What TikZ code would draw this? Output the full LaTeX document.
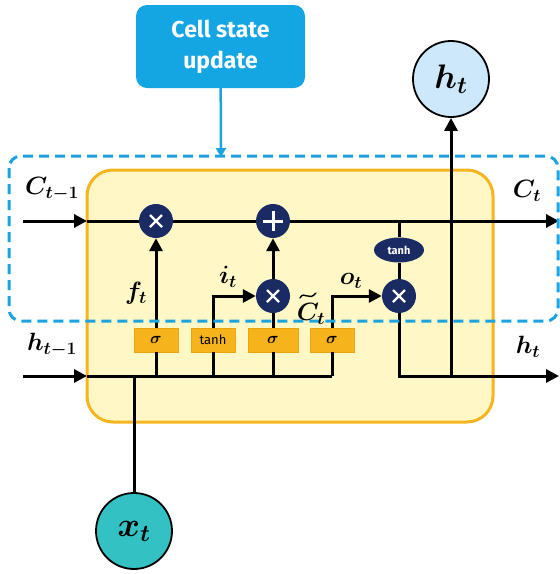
\RequirePackage{fix-cm}
\documentclass[tikz,border=0pt]{standalone}
\usepackage{fontspec}
\usepackage{bm}
\usetikzlibrary{arrows.meta,shapes.geometric}
\newfontfamily\boxfont{Fira Sans}
\definecolor{navy}{HTML}{1A2B63}
\definecolor{gateor}{HTML}{F6B31C}
\definecolor{gatebd}{HTML}{E9A510}
\definecolor{cellfill}{HTML}{FFF8C6}
\definecolor{cellbd}{HTML}{F5B521}
\definecolor{skyblue}{HTML}{1BA3E0}
\definecolor{boxblue}{HTML}{14A5E3}
\definecolor{hblue}{HTML}{CDE8FA}
\definecolor{xteal}{HTML}{33C1C4}
\begin{document}
\begin{tikzpicture}[x=1pt,y=-1pt,
  line/.style={line width=3pt,black},
  arr/.style={line,-{Triangle[length=13pt,width=13pt]}},
  op/.style={circle,fill=navy,minimum size=34pt,inner sep=0pt},
  mulop/.style={op,path picture={
      \draw[white,line width=2.2pt] ([shift={(-6pt,-6pt)}]path picture bounding box.center) -- ([shift={(6pt,6pt)}]path picture bounding box.center);
      \draw[white,line width=2.2pt] ([shift={(-6pt,6pt)}]path picture bounding box.center) -- ([shift={(6pt,-6pt)}]path picture bounding box.center);}},
  addop/.style={op,path picture={
      \draw[white,line width=3pt] ([shift={(-10pt,0pt)}]path picture bounding box.center) -- ([shift={(10pt,0pt)}]path picture bounding box.center);
      \draw[white,line width=3pt] ([shift={(0pt,-10pt)}]path picture bounding box.center) -- ([shift={(0pt,10pt)}]path picture bounding box.center);}},
  gate/.style={rectangle,fill=gateor,draw=gatebd,line width=0.6pt,minimum width=44pt,minimum height=24pt,inner sep=0pt,font=\fontsize{16}{16}\selectfont},
  bigc/.style={circle,draw=black,line width=1.8pt,minimum size=76pt,inner sep=0pt,font=\fontsize{34}{36}\selectfont},
  lab/.style={font=\fontsize{25}{28}\selectfont},
  cellbox/.style={rectangle,rounded corners=11pt,fill=boxblue,text=white,minimum width=169pt,minimum height=83pt,align=center,font=\boxfont\bfseries\fontsize{23}{31}\selectfont},
  bluearr/.style={draw=skyblue,line width=2.5pt,-{Triangle[length=9pt,width=10pt]}}
]
\useasboundingbox (0,0) rectangle (560,574);
% boxes
\draw[draw=cellbd,fill=cellfill,line width=3pt,rounded corners=26pt] (87,170) rectangle (493,422);
\node[cellbox] (cell) at (220.5,46.5) {Cell state\\update};
\coordinate (dtop) at (221,157);
\draw[bluearr] (cell) -- (dtop);
% big circles
\node[bigc,fill=hblue] (hout) at (451,79) {$\bm{h_t}$};
\node[bigc,fill=xteal] (xin) at (134,531) {$\bm{x_t}$};
% operators
\node[mulop] (fmul) at (156,221) {};
\node[addop] (add) at (273,221) {};
\node[mulop] (imul) at (273,296) {};
\node[mulop] (omul) at (399,296) {};
\node[ellipse,fill=navy,text=white,minimum width=50pt,minimum height=25pt,inner sep=0pt,font=\boxfont\bfseries\fontsize{11}{11}\selectfont] (tanhe) at (399,250) {tanh};
% gates
\node[gate] (sf) at (156,340) {$\bm{\sigma}$};
\node[gate,font=\boxfont\fontsize{13}{13}\selectfont,text=black] (tg) at (213,340) {tanh};
\node[gate,minimum width=50pt] (si) at (273,340) {$\bm{\sigma}$};
\node[gate] (so) at (332,340) {$\bm{\sigma}$};
% coordinates
\coordinate (cin) at (23,221);
\coordinate (cl) at (87,221);
\coordinate (cout) at (559,221);
\coordinate (cbr) at (399,221);
\coordinate (hin) at (23,376);
\coordinate (hl) at (87,376);
\coordinate (hx) at (134,376);
\coordinate (hf) at (156,376);
\coordinate (ht) at (213,376);
\coordinate (hi) at (273,376);
\coordinate (ho) at (332,376);
\coordinate (hj) at (451,376);
\coordinate (hout2) at (559,376);
% cell state line
\draw[arr] (cin) -- (cl);
\draw[line] (cl) -- (fmul);
\draw[line] (fmul) -- (add);
\draw[arr] (add) -- (cout);
\draw[line] (cbr) -- (tanhe);
\draw[line] (tanhe) -- (omul);
% hidden line
\draw[arr] (hin) -- (hl);
\draw[line] (hl) -- (ho);
\draw[line] (xin) -- (hx);
\draw[line] (hf) -- (sf);
\draw[line] (ht) -- (tg);
\draw[line] (hi) -- (si);
\draw[line] (ho) -- (so);
\draw[arr] (sf) -- (fmul);
\draw[arr] (tg) |- (imul);
\draw[line] (si) -- (imul);
\draw[arr] (imul) -- (add);
\draw[arr] (so) |- (omul);
\draw[arr] (omul) |- (hout2);
\draw[arr] (hj) -- (hout);
% dashed box
\draw[draw=skyblue,line width=3pt,dash pattern=on 10pt off 6pt,rounded corners=12pt] (9,156) rectangle (558,321);
% labels
\node[lab] (lc0) at (52,189) {$\bm{C_{t-1}}$};
\node[lab] (lc1) at (527,191) {$\bm{C_t}$};
\node[lab] (lh0) at (52,345) {$\bm{h_{t-1}}$};
\node[lab] (lh1) at (528,347) {$\bm{h_t}$};
\node[lab] (lf) at (136,293) {$\bm{f_t}$};
\node[lab] (li) at (228,277) {$\bm{i_t}$};
\node[lab] (lo) at (351,281) {$\bm{o_t}$};
\node[lab] (lct) at (311,314) {$\bm{C_t}$};
\draw[line width=1.4pt,line cap=round] (300,298) .. controls (304,290) and (309,302) .. (316,293);
\end{tikzpicture}
\end{document}
